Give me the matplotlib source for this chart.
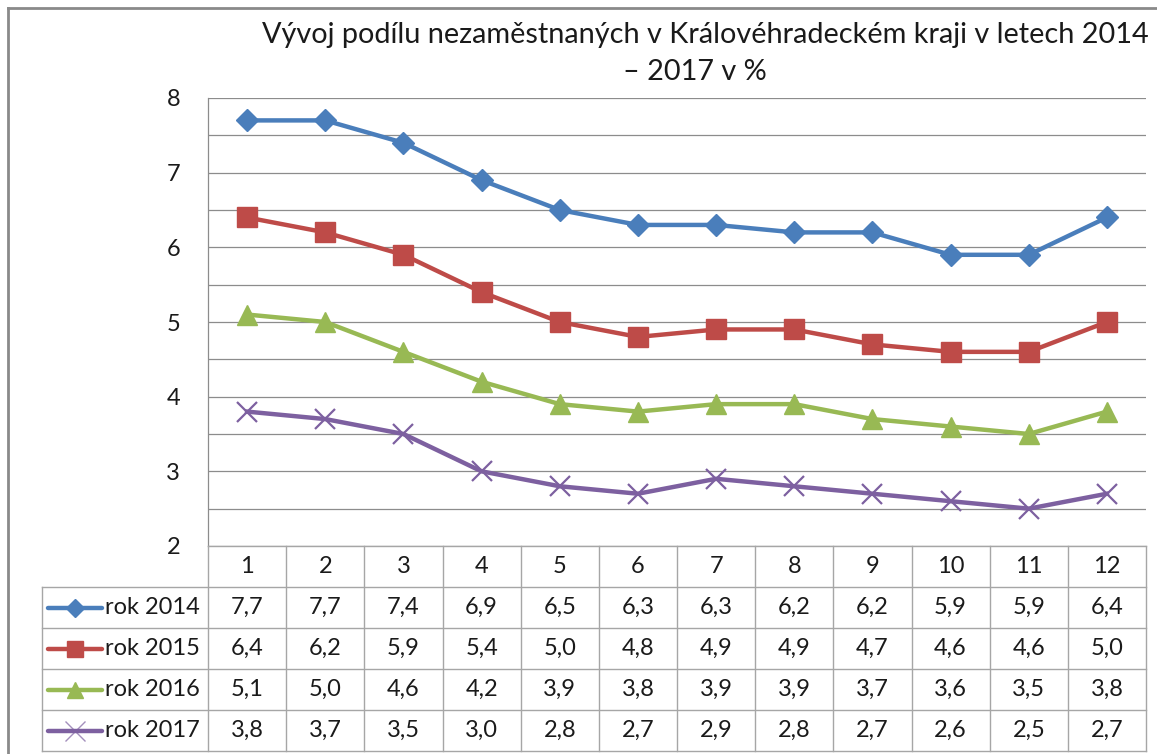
import matplotlib
matplotlib.use("Agg")
import matplotlib.pyplot as plt
from matplotlib.lines import Line2D

plt.rcParams['font.family'] = ['Lato', 'DejaVu Sans']

months = [1, 2, 3, 4, 5, 6, 7, 8, 9, 10, 11, 12]
series_names = ["rok 2014", "rok 2015", "rok 2016", "rok 2017"]
rok2014 = [7.7, 7.7, 7.4, 6.9, 6.5, 6.3, 6.3, 6.2, 6.2, 5.9, 5.9, 6.4]
rok2015 = [6.4, 6.2, 5.9, 5.4, 5.0, 4.8, 4.9, 4.9, 4.7, 4.6, 4.6, 5.0]
rok2016 = [5.1, 5.0, 4.6, 4.2, 3.9, 3.8, 3.9, 3.9, 3.7, 3.6, 3.5, 3.8]
rok2017 = [3.8, 3.7, 3.5, 3.0, 2.8, 2.7, 2.9, 2.8, 2.7, 2.6, 2.5, 2.7]
yticks = [2, 3, 4, 5, 6, 7, 8]
title_line1 = "Vývoj podílu nezaměstnaných v Královéhradeckém kraji v letech 2014"
title_line2 = "– 2017 v %"

series = [rok2014, rok2015, rok2016, rok2017]
colors = ["#4A7EBB", "#BE4B48", "#98B954", "#7D60A0"]
markers = ["D", "s", "^", "x"]
msizes = [11, 14, 14, 14]

W, H = 1157, 754
fig = plt.figure(figsize=(W / 100, H / 100), dpi=100)

def px_rect(x0, y0, x1, y1):
    return [x0 / W, 1 - y1 / H, (x1 - x0) / W, (y1 - y0) / H]

grid_c = "#8C8C8C"
tab_c = "#A6A6A6"
txt_c = "#1a1a1a"
fs = 17

# outer chart frame
fig.add_artist(Line2D([8 / W, 8 / W], [0, 1 - 8 / H], transform=fig.transFigure, color="#8A8A8A", lw=2))
fig.add_artist(Line2D([8 / W, 1], [1 - 8 / H, 1 - 8 / H], transform=fig.transFigure, color="#8A8A8A", lw=2))

ax = fig.add_axes(px_rect(208, 98, 1146, 546))
ax.set_xlim(0.5, 12.5)
ax.set_ylim(2, 8)
ax.set_yticks(yticks)
ax.set_yticklabels([str(v) for v in yticks], fontsize=fs, color=txt_c)
ax.tick_params(axis='y', length=0, pad=20)
ax.set_xticks([])
for v in [y / 2 for y in range(4, 17)]:
    ax.axhline(v, color=grid_c, lw=0.9, zorder=0)
for s in ["top", "right", "bottom"]:
    ax.spines[s].set_visible(False)
ax.spines["left"].set_color(grid_c)
ax.spines["left"].set_linewidth(0.9)

for vals, c, m, ms in zip(series, colors, markers, msizes):
    if m == "x":
        ax.plot(months, vals, color=c, lw=3.2, marker=m, ms=ms, mew=1.6, mec=c, clip_on=False)
    else:
        ax.plot(months, vals, color=c, lw=3.2, marker=m, ms=ms, mfc=c, mec=c, clip_on=False)

# title
fig.text(262 / W, 1 - 35 / H, title_line1, fontsize=20.8, ha="left", va="center", color=txt_c)
fig.text(695 / W, 1 - 72 / H, title_line2, fontsize=20.8, ha="center", va="center", color=txt_c)

# data table
tab = fig.add_axes(px_rect(208, 546, 1146, 751))
tab.set_xlim(0.5, 12.5)
tab.set_ylim(5, 0)
tab.axis("off")
leg_left = 0.5 - (208 - 42) / ((1146 - 208) / 12)

for i in range(13):
    x = 0.5 + i
    tab.plot([x, x], [0, 5], color=tab_c, lw=1, clip_on=False)
tab.plot([leg_left, leg_left], [1, 5], color=tab_c, lw=1, clip_on=False)
tab.plot([0.5, 12.5], [0, 0], color=tab_c, lw=1, clip_on=False)
for r in range(1, 6):
    tab.plot([leg_left, 12.5], [r, r], color=tab_c, lw=1, clip_on=False)

for m in months:
    tab.text(m, 0.5, str(m), ha="center", va="center", fontsize=fs, color=txt_c)

cw = (1146 - 208) / 12
for r, (name, vals, c, mk, ms) in enumerate(zip(series_names, series, colors, markers, msizes), start=1):
    for m, v in zip(months, vals):
        tab.text(m, r + 0.5, f"{v:.1f}".replace(".", ","), ha="center", va="center", fontsize=fs, color=txt_c)
    x0 = leg_left + 6 / cw
    x1 = leg_left + 60 / cw
    xm = (x0 + x1) / 2
    tab.plot([x0, x1], [r + 0.5, r + 0.5], color=c, lw=3.2, solid_capstyle="round", clip_on=False)
    if mk == "x":
        tab.plot([xm], [r + 0.5], marker=mk, ms=ms, mew=1.0, color=c, alpha=0.7, clip_on=False)
    else:
        tab.plot([xm], [r + 0.5], marker=mk, ms=ms * 0.85, color=c, clip_on=False)
    tab.text(leg_left + 63 / cw, r + 0.5, name, ha="left", va="center", fontsize=fs, color=txt_c)

fig.savefig("out.png", dpi=100)
